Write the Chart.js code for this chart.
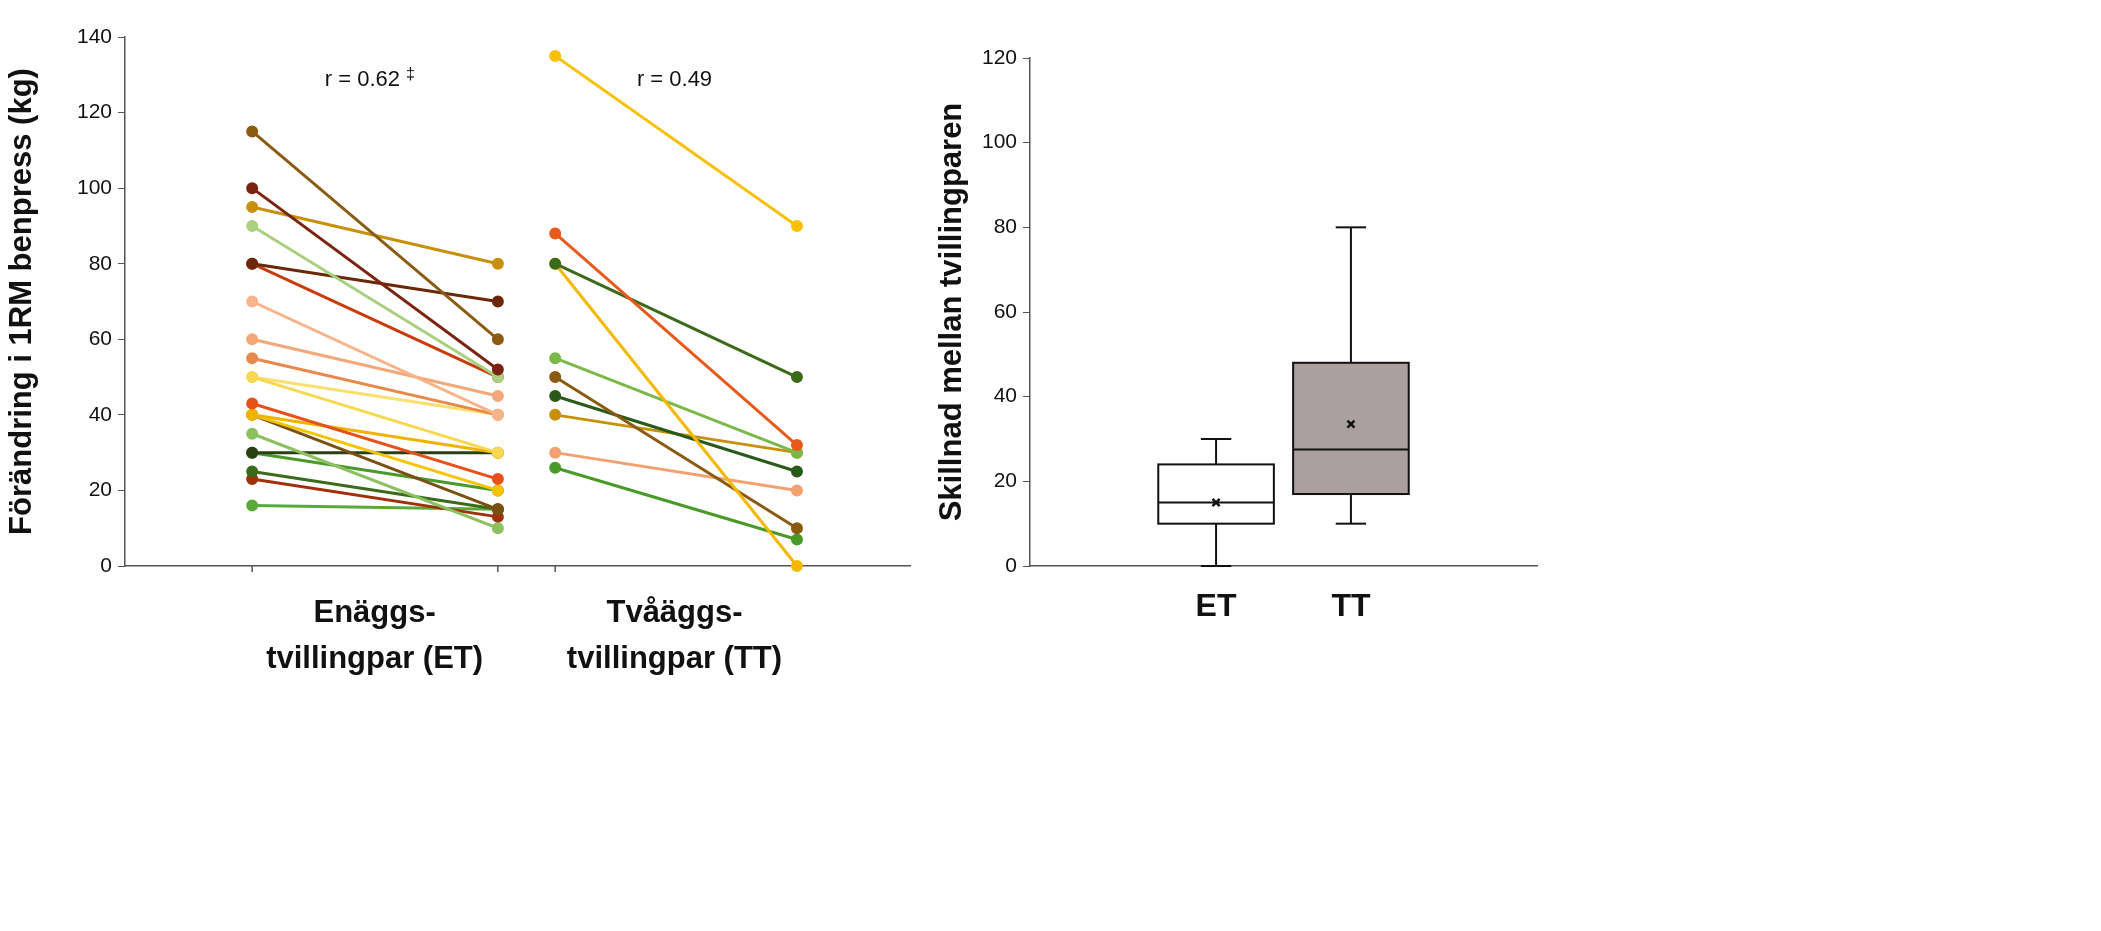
<!DOCTYPE html>
<html><head><meta charset="utf-8">
<script src="https://cdn.jsdelivr.net/npm/chart.js@4/dist/chart.umd.min.js"></script>
<style>
body{margin:0;background:#fff;width:2101px;height:931px;overflow:hidden;font-family:Arial,"Liberation Sans",sans-serif}
#c1{position:absolute;left:0;top:0}
#c2{position:absolute;left:930px;top:0}
</style></head><body>
<canvas id="c1" width="940" height="931"></canvas>
<canvas id="c2" width="1171" height="931"></canvas>
<script>
// Enäggs-tvillingpar (ET): start -> slut
const etStart = [115, 100, 95, 90, 80, 80, 70, 60, 55, 50, 50, 43, 40, 40, 40, 35, 30, 30, 25, 23, 16];
const etEnd   = [60, 52, 80, 50, 70, 50, 40, 45, 40, 30, 40, 23, 30, 20, 15, 10, 30, 20, 15, 13, 15];
const etColors = ['#8a5c12', '#7a2410', '#c8900a', '#a8d080', '#6b2808', '#c83c0a', '#f7b48a', '#f2a878',
  '#e8884a', '#f8d850', '#fbe070', '#e8501a', '#f0b400', '#f7c200', '#7a5010', '#8cc060', '#2a3e14',
  '#4a9a2a', '#3a6a1a', '#a0300a', '#5aaa3a'];
// Tvåäggs-tvillingpar (TT)
const ttStart = [135, 88, 80, 80, 55, 50, 45, 40, 30, 26];
const ttEnd   = [90, 32, 50, 0, 30, 10, 25, 30, 20, 7];
const ttColors = ['#f7c000', '#e85a1a', '#3a6a1a', '#f5b800', '#7ab84a', '#8a5a10', '#2a5a1a', '#c8900a', '#f5a070', '#4a9a2a'];
const yTicks1 = [0, 20, 40, 60, 80, 100, 120, 140];

// Skillnad mellan tvillingparen (box)
const boxGroups = ['ET', 'TT'];
const boxMin = [0, 10];
const boxQ1 = [10, 17];
const boxMedian = [15, 27.5];
const boxQ3 = [24, 48];
const boxMax = [30, 80];
const boxMean = [15, 33.5];
const boxFill = ['#ffffff', '#aaa09f'];

const xET = [1.62, 4.75], xTT = [5.48, 8.56];
const font = 'Arial, "Liberation Sans", sans-serif';

const ds1 = [];
etStart.forEach((s, i) => ds1.push({data: [{x: xET[0], y: s}, {x: xET[1], y: etEnd[i]}], borderColor: etColors[i], backgroundColor: etColors[i]}));
ttStart.forEach((s, i) => ds1.push({data: [{x: xTT[0], y: s}, {x: xTT[1], y: ttEnd[i]}], borderColor: ttColors[i], backgroundColor: ttColors[i]}));
ds1.forEach(d => { d.borderWidth = 3; d.pointRadius = 4.5; d.showLine = true; d.clip = false; });

const text1 = {
  id: 'text1',
  afterDraw(chart) {
    const c = chart.ctx, x = chart.scales.x, y = chart.scales.y;
    c.save();
    c.fillStyle = '#111';
    c.textAlign = 'center';
    c.font = '22px ' + font;
    c.fillText('r = 0.62', x.getPixelForValue(3.1) - 6, y.getPixelForValue(127));
    c.font = '16px ' + font;
    c.fillText('‡', x.getPixelForValue(3.1) + 42, y.getPixelForValue(129));
    c.font = '22px ' + font;
    c.fillText('r = 0.49', x.getPixelForValue(7.0), y.getPixelForValue(127));
    c.font = 'bold 31px ' + font;
    c.fillText('Enäggs-', x.getPixelForValue(3.18), 622);
    c.fillText('tvillingpar (ET)', x.getPixelForValue(3.18), 668);
    c.fillText('Tvåäggs-', x.getPixelForValue(7.0), 622);
    c.fillText('tvillingpar (TT)', x.getPixelForValue(7.0), 668);
    // tick marks on x axis
    c.strokeStyle = '#555'; c.lineWidth = 1.5;
    [xET[0], xET[1], xTT[0]].forEach(v => {
      const px = x.getPixelForValue(v);
      c.beginPath(); c.moveTo(px, y.bottom); c.lineTo(px, y.bottom + 6); c.stroke();
    });
    c.restore();
  }
};

new Chart(document.getElementById('c1'), {
  type: 'scatter',
  data: {datasets: ds1},
  options: {
    responsive: false, animation: false,
    layout: {padding: {top: 37, bottom: 357, right: 30, left: 0}},
    plugins: {legend: {display: false}, tooltip: {enabled: false}},
    scales: {
      x: {type: 'linear', min: 0, max: 10, ticks: {display: false}, grid: {display: false},
          border: {color: '#555', width: 1.5}},
      y: {min: 0, max: 140, afterBuildTicks: s => { s.ticks = yTicks1.map(v => ({value: v})); },
          afterFit: s => { s.width = 125; },
          ticks: {color: '#111', font: {size: 21, family: font}, padding: 6},
          grid: {drawOnChartArea: false, tickLength: 7, color: '#555'},
          border: {color: '#555', width: 1.5},
          title: {display: true, text: 'Förändring i 1RM benpress (kg)', color: '#111',
                  font: {size: 31, weight: 'bold', family: font}, padding: {bottom: 4}}}
    }
  },
  plugins: [text1]
});

// Box plot
const boxX = [3.67, 6.33], halfW = 1.14, capW = 0.3;
const boxPlugin = {
  id: 'box',
  beforeDatasetsDraw(chart) {
    const c = chart.ctx, x = chart.scales.x, y = chart.scales.y;
    c.save();
    c.strokeStyle = '#111'; c.lineWidth = 2;
    boxGroups.forEach((g, i) => {
      const cx = x.getPixelForValue(boxX[i]);
      const l = x.getPixelForValue(boxX[i] - halfW), r = x.getPixelForValue(boxX[i] + halfW);
      const cl = x.getPixelForValue(boxX[i] - capW), cr = x.getPixelForValue(boxX[i] + capW);
      const line = (x1, y1, x2, y2) => { c.beginPath(); c.moveTo(x1, y1); c.lineTo(x2, y2); c.stroke(); };
      line(cx, y.getPixelForValue(boxMin[i]), cx, y.getPixelForValue(boxQ1[i]));
      line(cx, y.getPixelForValue(boxQ3[i]), cx, y.getPixelForValue(boxMax[i]));
      line(cl, y.getPixelForValue(boxMin[i]), cr, y.getPixelForValue(boxMin[i]));
      line(cl, y.getPixelForValue(boxMax[i]), cr, y.getPixelForValue(boxMax[i]));
      const t = y.getPixelForValue(boxQ3[i]), b = y.getPixelForValue(boxQ1[i]);
      c.fillStyle = boxFill[i];
      c.fillRect(l, t, r - l, b - t);
      c.strokeRect(l, t, r - l, b - t);
      line(l, y.getPixelForValue(boxMedian[i]), r, y.getPixelForValue(boxMedian[i]));
      c.fillStyle = '#111'; c.textAlign = 'center';
      c.font = 'bold 32px ' + font;
      c.fillText(g, cx, y.bottom + 50);
    });
    c.restore();
  }
};

new Chart(document.getElementById('c2'), {
  type: 'scatter',
  data: {datasets: [{
    data: boxGroups.map((g, i) => ({x: boxX[i], y: boxMean[i]})),
    pointStyle: 'crossRot', pointRadius: 5, borderWidth: 2.5, borderColor: '#111'
  }]},
  options: {
    responsive: false, animation: false,
    layout: {padding: {top: 58, bottom: 357, right: 1171 - 607, left: 0}},
    plugins: {legend: {display: false}, tooltip: {enabled: false}},
    scales: {
      x: {type: 'linear', min: 0, max: 10, ticks: {display: false}, grid: {display: false},
          border: {color: '#555', width: 1.5}},
      y: {min: 0, max: 120, ticks: {stepSize: 20, color: '#111', font: {size: 21, family: font}, padding: 6},
          afterFit: s => { s.width = 100; },
          grid: {drawOnChartArea: false, tickLength: 7, color: '#555'},
          border: {color: '#555', width: 1.5},
          title: {display: true, text: 'Skillnad mellan tvillingparen', color: '#111',
                  font: {size: 31, weight: 'bold', family: font}, padding: {bottom: 4}}}
    }
  },
  plugins: [boxPlugin]
});
</script>
</body></html>
